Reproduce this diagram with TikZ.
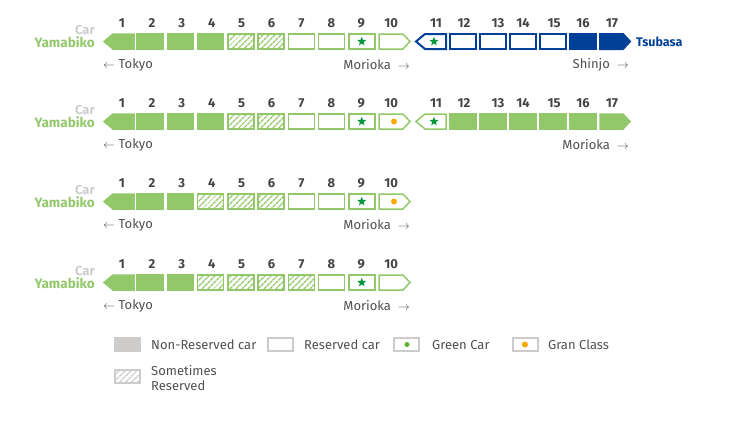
\documentclass[tikz,border=0pt]{standalone}
\usepackage{fontspec}
\setmainfont{Fira Sans}
\usetikzlibrary{patterns.meta,shapes.geometric}

\definecolor{ygreen}{RGB}{146,200,106}
\definecolor{tblue}{RGB}{0,64,152}
\definecolor{gstar}{RGB}{0,150,60}
\definecolor{gdot}{RGB}{90,180,45}
\definecolor{gorange}{RGB}{246,170,0}
\definecolor{lgray}{RGB}{206,203,203}
\definecolor{numgray}{RGB}{68,68,68}
\definecolor{txt}{RGB}{80,80,80}

\begin{document}
\begin{tikzpicture}[x=1pt, y=-1pt,
    nonres/.style={draw=ygreen, fill=ygreen, line width=1.5},
    res/.style={draw=ygreen, fill=white, line width=1.5},
    hatched/.style={draw=ygreen, line width=1.5, pattern={Lines[angle=45, distance=4pt, line width=1.5pt]}, pattern color=ygreen},
    bres/.style={draw=tblue, fill=white, line width=2},
    bnonres/.style={draw=tblue, fill=tblue, line width=2},
    num/.style={font=\fontsize{13}{15}\selectfont\bfseries, text=numgray, inner sep=0},
    place/.style={font=\fontsize{13}{15}\selectfont, text=txt, inner sep=0},
    legend/.style={font=\fontsize{13}{15}\selectfont, text=txt, inner sep=0, anchor=west, align=left},
    starmark/.style={star, star points=5, star point ratio=2.4, fill=gstar, inner sep=0, minimum size=9.5},
]
    \useasboundingbox (0,0) rectangle (737,429);

    % cars common to all four rows
    \foreach \y [count=\r] in {34, 114, 194, 275}{
        \node[font=\fontsize{13}{15}\selectfont\bfseries, text=lgray, anchor=east, inner sep=0] (car\r) at (95, \y-4) {Car};
        \node[font=\fontsize{13.5}{15}\selectfont\bfseries, text=ygreen, anchor=east, inner sep=0] (yamabiko\r) at (95, \y+8) {Yamabiko};
        \foreach \i in {1, ..., 10}{
            \node[num] (n\r-\i) at ({122+29.9*(\i-1)}, \y-11) {\i};
        }
        \draw[nonres] (134, \y) -- (113, \y) -- (104, \y+7.5) -- (113, \y+15) -- (134, \y+15) -- cycle;
        \foreach \i in {2, 3}{
            \draw[nonres] ({76.5+30.25*\i}, \y) rectangle +(26, 15);
        }
        \draw[res] ({76.5+30.25*8}, \y) rectangle +(26, 15);
        \draw[res] ({76.5+30.25*9}, \y) rectangle +(26, 15);
        \node[starmark] (star\r) at ({76.5+30.25*9+13}, \y+7.5) {};
        \draw[res] (379, \y) -- (403, \y) -- (410, \y+7.5) -- (403, \y+15) -- (379, \y+15) -- cycle;
        \node[place, anchor=west] (tokyo\r) at (103, \y+31) {$\leftarrow$\ Tokyo};
    }

    % row 1 and 2: cars 4 to 7
    \foreach \y in {34, 114}{
        \draw[nonres] ({76.5+30.25*4}, \y) rectangle +(26, 15);
        \draw[hatched] ({76.5+30.25*5}, \y) rectangle +(26, 15);
        \draw[hatched] ({76.5+30.25*6}, \y) rectangle +(26, 15);
        \draw[res] ({76.5+30.25*7}, \y) rectangle +(26, 15);
    }
    % row 3
    \foreach \i in {4, 5, 6}{
        \draw[hatched] ({76.5+30.25*\i}, 194) rectangle +(26, 15);
    }
    \draw[res] ({76.5+30.25*7}, 194) rectangle +(26, 15);
    % row 4
    \foreach \i in {4, 5, 6, 7}{
        \draw[hatched] ({76.5+30.25*\i}, 275) rectangle +(26, 15);
    }

    % gran class
    \fill[gorange] (394, 121.5) circle (3);
    \fill[gorange] (394, 201.5) circle (3);

    % numbers 11 to 17
    \foreach \y [count=\r] in {34, 114}{
        \foreach \i/\x in {11/436, 12/464, 13/498, 14/523, 15/554, 16/583, 17/612}{
            \node[num] (n\r-\i) at (\x, \y-11) {\i};
        }
    }

    % Tsubasa part
    \draw[bres] (446, 34) -- (425, 34) -- (416, 41.5) -- (425, 49) -- (446, 49) -- cycle;
    \node[starmark] (star11) at (434, 41.5) {};
    \foreach \x in {450, 480, 510, 540}{
        \draw[bres] (\x, 34) rectangle +(26, 15);
    }
    \draw[bnonres] (570, 34) rectangle +(26, 15);
    \draw[bnonres] (600, 34) -- (623, 34) -- (630, 41.5) -- (623, 49) -- (600, 49) -- cycle;
    \node[font=\fontsize{12.5}{15}\selectfont\bfseries, text=tblue, anchor=west, inner sep=0] (tsubasa) at (636, 42) {Tsubasa};

    % row 2 cars 11 to 17
    \draw[res] (446, 114) -- (425, 114) -- (416, 121.5) -- (425, 129) -- (446, 129) -- cycle;
    \node[starmark] (star12) at (434, 121.5) {};
    \foreach \x in {450, 480, 510, 540, 570}{
        \draw[nonres] (\x, 114) rectangle +(26, 15);
    }
    \draw[nonres] (600, 114) -- (623, 114) -- (630, 121.5) -- (623, 129) -- (600, 129) -- cycle;

    \node[place, anchor=east] (morioka1) at (410, 65) {Morioka\ \ $\rightarrow$};
    \node[place, anchor=east] (shinjo) at (629, 65) {Shinjo\ \ $\rightarrow$};
    \node[place, anchor=east] (morioka2) at (629, 145) {Morioka\ \ $\rightarrow$};
    \node[place, anchor=east] (morioka3) at (410, 225) {Morioka\ \ $\rightarrow$};
    \node[place, anchor=east] (morioka4) at (410, 306) {Morioka\ \ $\rightarrow$};

    % legend
    \draw[draw=lgray, fill=lgray, line width=1.2] (115, 338) rectangle (140, 351);
    \node[legend] (lnonres) at (151, 345) {Non-Reserved car};
    \draw[draw=lgray, fill=white, line width=1.2] (268, 338) rectangle (293, 351);
    \node[legend] (lres) at (304, 345) {Reserved car};
    \draw[draw=lgray, fill=white, line width=1.2] (394, 338) rectangle (419, 351);
    \fill[gdot] (407, 344.5) circle (2.5);
    \node[legend] (lgreen) at (432, 345) {Green Car};
    \draw[draw=lgray, fill=white, line width=1.2] (513, 338) rectangle (538, 351);
    \fill[gorange] (525, 344.5) circle (3);
    \node[legend] (lgran) at (548, 345) {Gran Class};
    \draw[draw=lgray, line width=1.2, pattern={Lines[angle=45, distance=4pt, line width=1.5pt]}, pattern color=lgray] (115, 370) rectangle (140, 383);
    \node[legend] (lhatch) at (151, 378) {Sometimes\\Reserved};
\end{tikzpicture}
\end{document}
